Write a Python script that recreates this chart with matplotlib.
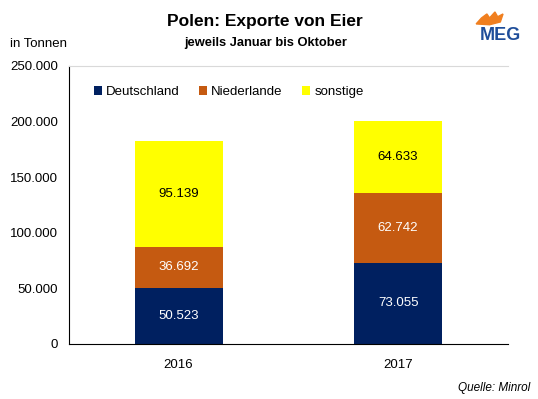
import matplotlib
matplotlib.use("Agg")
import matplotlib.pyplot as plt
import numpy as np

plt.rcParams['font.family'] = ['Liberation Sans', 'DejaVu Sans']

years = ['2016', '2017']
deutschland = [50523, 73055]
niederlande = [36692, 62742]
sonstige = [95139, 64633]
series_names = ['Deutschland', 'Niederlande', 'sonstige']
colors = ['#002060', '#C55A11', '#FFFF00']
label_colors = ['white', 'white', 'black']


def fmt(v):
    return '{:,}'.format(v).replace(',', '.')


fig = plt.figure(figsize=(5.38, 3.99), dpi=100)
ax = fig.add_axes([0.128, 0.138, 0.816, 0.697])

x = np.arange(len(years))
bottom = np.zeros(len(years))
for name, vals, col, lc in zip(series_names, [deutschland, niederlande, sonstige], colors, label_colors):
    bars = ax.bar(x, vals, width=0.4, bottom=bottom, color=col, label=name, zorder=2)
    for b, v, bt in zip(bars, vals, bottom):
        ax.text(b.get_x() + b.get_width() / 2, bt + v / 2, fmt(v), ha='center', va='center',
                color=lc, fontsize=9.5)
    bottom += np.array(vals)

ax.set_xlim(-0.5, 1.5)
ax.set_ylim(0, 250000)
ax.set_yticks(np.arange(0, 250001, 50000))
ax.set_yticklabels([fmt(v) for v in range(0, 250001, 50000)], fontsize=9.5)
ax.set_xticks(x)
ax.set_xticklabels(years, fontsize=9.5)
ax.tick_params(axis='x', length=0, pad=11)
ax.tick_params(axis='y', length=0, pad=8)
ax.spines['right'].set_visible(False)
ax.spines['top'].set_color('#D9D9D9')
ax.spines['left'].set_color('black')
ax.spines['bottom'].set_color('black')

ax.legend(loc='upper left', bbox_to_anchor=(0.03, 0.97), ncol=3, frameon=False, fontsize=9.5,
          handlelength=0.6, handleheight=0.6, handletextpad=0.3, columnspacing=1.5)

fig.text(0.493, 0.945, 'Polen: Exporte von Eier', ha='center', va='center', fontsize=12.5, fontweight='bold')
fig.text(0.493, 0.893, 'jeweils Januar bis Oktober', ha='center', va='center', fontsize=9.3, fontweight='bold')
fig.text(0.019, 0.889, 'in Tonnen', ha='left', va='center', fontsize=9.5)
fig.text(0.985, 0.027, 'Quelle: Minrol', ha='right', va='center', fontsize=8.5, style='italic')

# logo
fig.text(0.93, 0.91, 'MEG', ha='center', va='center', fontsize=13, fontweight='bold', color='#1F4E9A')
flame = plt.Polygon([[0.885, 0.94], [0.895, 0.955], [0.905, 0.965], [0.91, 0.955], [0.92, 0.97],
                     [0.925, 0.958], [0.935, 0.965], [0.93, 0.945], [0.91, 0.938]],
                    closed=True, transform=fig.transFigure, color='#F07F1F')
fig.patches.append(flame)

fig.savefig('out.png', dpi=100)
